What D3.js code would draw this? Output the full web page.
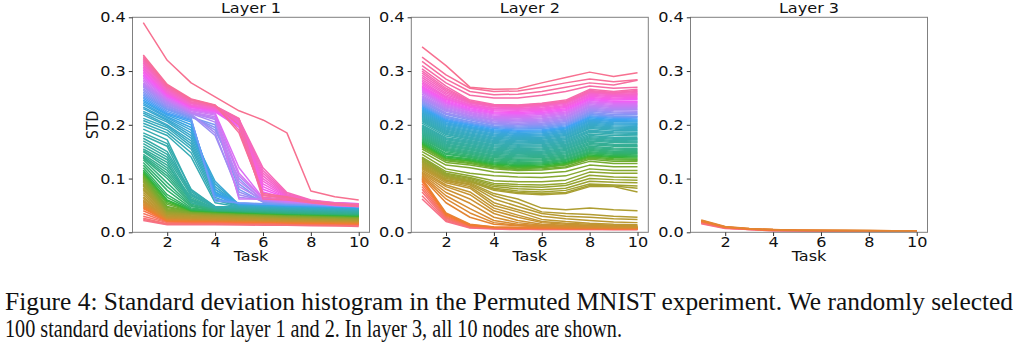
<!DOCTYPE html>
<html>
<head>
<meta charset="utf-8">
<script src="https://cdn.jsdelivr.net/npm/d3@7"></script>
<style>
  html, body { margin: 0; padding: 0; background: #fff; }
  svg { display: block; }
</style>
</head>
<body>
<svg id="chart" width="1024" height="345"></svg>
<script>
// ---------------- DATA ----------------
const tasks = [1, 2, 3, 4, 5, 6, 7, 8, 9, 10];
const xTicks = [2, 4, 6, 8, 10];
const yTicks = [0.0, 0.1, 0.2, 0.3, 0.4];
const titles = ["Layer 1", "Layer 2", "Layer 3"];
const yLabel = "STD";
const xLabel = "Task";
const captionLines = [
  "Figure 4: Standard deviation histogram in the Permuted MNIST experiment. We randomly selected",
  "100 standard deviations for layer 1 and 2. In layer 3, all 10 nodes are shown."
];

// STD values in thousandths (0.001), one row per node, one column per task
const layer1Milli = [
  [22,14,14,14,14,13,13,12,12,11],
  [24,15,15,15,14,14,13,13,12,12],
  [26,16,16,16,15,15,14,14,13,13],
  [30,18,17,17,16,16,15,15,14,14],
  [35,19,18,18,17,17,16,16,15,15],
  [40,20,19,19,18,18,17,16,16,15],
  [44,21,20,20,19,19,18,17,17,16],
  [46,22,21,21,20,19,18,18,17,17],
  [48,23,22,22,21,20,19,19,18,18],
  [50,24,23,22,21,21,20,19,19,18],
  [52,25,24,23,22,21,20,20,19,19],
  [54,26,24,24,23,22,21,20,20,19],
  [56,27,25,24,23,22,21,21,20,20],
  [58,27,26,25,24,23,22,21,21,20],
  [60,28,26,25,24,23,22,22,21,21],
  [63,29,27,26,25,24,23,22,22,21],
  [66,30,28,27,26,25,24,23,22,22],
  [70,31,29,28,27,26,25,24,23,22],
  [74,32,30,29,28,27,25,24,23,23],
  [78,33,31,30,29,27,26,25,24,23],
  [80,34,32,31,29,28,27,26,25,24],
  [83,35,33,31,30,29,27,26,25,24],
  [86,36,34,32,31,29,28,27,26,25],
  [88,37,34,33,31,30,28,27,26,25],
  [90,38,35,33,32,30,29,28,27,26],
  [93,39,36,34,32,31,29,28,27,26],
  [95,40,36,34,33,31,30,29,28,27],
  [97,41,37,35,33,32,30,29,28,27],
  [99,42,37,35,34,32,31,30,29,28],
  [101,44,38,36,34,33,31,30,29,28],
  [103,46,38,36,35,33,32,31,30,29],
  [105,48,39,37,35,34,32,31,30,29],
  [107,52,39,37,36,34,33,32,31,30],
  [109,55,40,38,36,35,33,32,31,30],
  [111,58,40,38,37,35,34,33,32,31],
  [113,60,41,39,37,36,34,33,32,31],
  [116,65,42,39,38,36,35,34,33,32],
  [120,70,43,40,38,37,35,34,33,32],
  [125,78,45,40,39,37,36,35,34,33],
  [130,85,48,41,39,38,36,35,34,33],
  [135,92,50,41,40,38,37,36,35,34],
  [138,100,52,42,40,39,37,36,35,34],
  [140,105,55,42,41,39,38,37,36,35],
  [142,110,58,43,41,40,38,37,36,35],
  [145,115,60,43,42,40,39,38,37,36],
  [150,120,62,44,42,41,39,38,37,36],
  [152,125,65,44,43,41,40,39,38,37],
  [155,130,55,45,43,42,40,39,38,37],
  [160,135,60,45,44,42,41,40,39,38],
  [165,140,68,46,44,43,41,40,39,38],
  [170,145,72,46,45,43,42,41,40,39],
  [175,150,75,47,45,44,42,41,40,39],
  [180,160,70,47,46,44,43,42,41,40],
  [185,165,80,48,46,45,43,42,41,40],
  [192,172,78,48,47,45,44,43,42,41],
  [198,180,140,55,47,46,44,43,42,41],
  [203,185,148,60,48,46,45,44,43,41],
  [208,190,155,65,48,47,45,44,43,42],
  [212,195,160,70,49,47,46,45,44,42],
  [218,198,165,75,49,48,46,45,44,43],
  [222,200,170,80,50,48,47,46,45,43],
  [225,205,175,85,50,49,47,46,45,44],
  [230,208,180,90,51,49,48,47,46,44],
  [233,210,185,95,51,50,48,47,46,45],
  [237,213,190,75,52,50,49,48,47,45],
  [240,215,195,70,52,51,49,48,47,46],
  [243,218,200,80,53,51,50,49,47,46],
  [246,220,205,72,53,52,50,49,48,47],
  [249,222,208,68,54,52,51,50,48,47],
  [252,225,210,62,54,53,51,50,49,47],
  [255,228,212,58,55,53,52,51,49,48],
  [258,230,214,200,80,56,53,52,50,48],
  [261,232,215,195,90,57,54,52,50,49],
  [264,234,217,190,100,58,54,53,51,49],
  [267,236,218,180,75,58,55,53,51,50],
  [270,238,220,185,70,59,55,54,52,50],
  [272,240,221,205,65,60,56,54,52,50],
  [274,242,222,210,85,60,56,55,53,51],
  [276,244,223,212,95,61,57,55,53,51],
  [278,246,224,215,105,62,57,56,54,52],
  [281,247,226,218,62,62,58,56,54,52],
  [284,249,228,220,110,63,58,57,55,53],
  [287,251,229,222,120,64,59,57,55,53],
  [290,252,230,224,195,70,62,55,50,48],
  [293,254,232,225,198,75,63,55,51,48],
  [296,255,233,226,200,80,64,56,51,49],
  [299,257,234,227,202,85,65,56,52,49],
  [302,258,235,228,204,90,66,57,52,50],
  [305,260,236,229,205,95,67,57,53,50],
  [308,261,237,230,206,100,68,58,53,51],
  [311,263,239,231,207,105,69,58,53,51],
  [314,265,240,232,208,110,70,59,54,51],
  [316,266,241,233,209,115,72,59,54,52],
  [318,268,242,234,210,120,74,60,55,52],
  [320,269,243,234,211,65,62,56,52,49],
  [323,271,245,235,212,70,63,57,53,50],
  [325,272,246,236,200,62,60,55,51,48],
  [327,273,247,236,190,68,65,56,52,49],
  [330,275,248,237,185,72,66,57,53,50],
  [390,320,278,252,226,209,185,77,66,60]
];

const layer2Milli = [
  [62,20,8,6,5,5,5,5,5,5],
  [68,22,9,7,6,5,5,5,5,5],
  [75,24,10,7,6,6,6,6,5,5],
  [80,26,10,8,7,6,6,6,6,6],
  [85,28,11,8,7,7,6,6,6,6],
  [90,30,12,9,8,7,7,7,6,6],
  [95,32,13,9,8,8,7,7,7,7],
  [98,34,14,10,9,8,8,8,7,7],
  [100,36,15,10,9,9,8,8,8,8],
  [102,55,28,15,12,10,9,9,8,8],
  [104,62,36,18,13,11,10,9,9,9],
  [106,68,44,22,15,12,11,10,9,9],
  [108,74,54,28,18,13,12,11,10,10],
  [110,80,62,35,22,15,13,12,11,10],
  [112,85,70,40,28,18,15,13,12,11],
  [115,88,75,45,32,20,17,15,13,12],
  [118,92,82,50,38,24,20,17,15,14],
  [120,95,85,55,42,30,25,22,19,18],
  [122,97,88,62,48,35,30,28,25,24],
  [124,98,90,68,55,38,35,33,30,28],
  [126,100,92,72,62,45,42,45,42,40],
  [128,102,94,78,72,70,72,85,85,75],
  [130,104,95,80,74,72,74,87,86,82],
  [132,105,96,82,77,75,78,90,88,86],
  [134,106,98,85,81,79,82,95,93,92],
  [136,108,100,88,85,84,87,100,98,97],
  [138,110,102,91,89,88,91,106,103,102],
  [140,113,105,96,94,94,97,112,110,110],
  [145,118,110,105,103,102,105,118,115,115],
  [150,125,120,112,110,110,113,125,122,122],
  [155,130,125,118,115,116,120,132,128,128],
  [158,133,128,120,117,118,122,136,132,132],
  [160,135,130,122,118,120,125,138,135,134],
  [162,137,132,123,120,121,126,140,137,136],
  [164,138,133,125,122,123,128,142,139,138],
  [166,140,135,127,124,125,130,144,141,140],
  [168,142,137,129,126,127,132,146,143,142],
  [170,145,139,131,128,129,134,148,145,144],
  [172,147,141,133,130,131,136,150,147,146],
  [174,150,143,135,132,133,138,152,149,148],
  [176,152,145,137,134,135,140,154,151,150],
  [178,154,147,139,136,137,142,156,153,152],
  [180,156,149,141,138,139,144,158,155,154],
  [182,158,151,143,140,141,146,160,157,156],
  [184,160,153,145,142,143,148,163,160,159],
  [186,162,155,147,144,145,150,165,162,161],
  [188,164,157,149,146,147,152,167,164,163],
  [190,166,159,151,148,149,154,170,167,166],
  [192,168,161,153,150,151,156,172,169,168],
  [194,170,163,155,152,153,158,174,171,170],
  [196,172,165,157,154,155,160,176,173,172],
  [198,174,167,159,156,157,162,178,175,174],
  [200,176,169,161,158,159,164,180,177,176],
  [203,179,171,163,160,161,166,183,180,179],
  [206,182,173,165,162,163,168,186,183,182],
  [208,184,175,167,164,165,170,188,185,184],
  [210,186,177,169,166,167,172,190,187,186],
  [212,188,179,171,168,169,174,193,190,189],
  [214,190,181,173,170,171,176,195,192,191],
  [216,192,183,175,172,173,178,197,194,193],
  [218,194,185,177,174,175,180,199,196,195],
  [220,196,187,179,176,177,182,201,198,197],
  [222,198,189,181,178,179,184,203,200,199],
  [224,200,191,183,180,181,186,205,202,201],
  [226,202,193,185,182,183,188,207,204,203],
  [228,204,195,187,184,185,190,209,206,205],
  [230,206,197,189,186,187,192,211,208,207],
  [232,208,199,191,188,189,194,213,210,209],
  [234,210,201,193,190,191,196,215,212,211],
  [236,212,203,195,192,193,198,217,214,213],
  [238,214,205,197,194,195,200,219,216,215],
  [240,216,206,198,196,197,202,221,217,216],
  [242,219,209,200,198,199,204,223,219,219],
  [244,221,211,202,200,201,206,225,222,221],
  [246,222,212,203,201,203,208,227,224,223],
  [248,225,214,205,203,205,210,229,226,225],
  [250,227,216,207,205,207,212,231,228,228],
  [252,229,217,209,207,209,214,233,230,230],
  [254,231,219,210,209,211,216,235,232,232],
  [257,233,221,212,211,213,218,237,234,234],
  [260,235,223,214,213,215,220,239,236,236],
  [262,237,225,216,215,217,222,241,238,238],
  [264,239,226,218,217,219,224,243,240,240],
  [266,241,228,220,219,221,226,245,242,242],
  [268,243,230,222,221,223,228,247,244,244],
  [270,245,232,224,223,225,230,249,246,247],
  [272,247,234,226,225,227,232,251,248,249],
  [275,249,235,228,227,229,234,253,250,251],
  [278,251,237,230,229,231,236,255,252,253],
  [281,253,238,231,230,233,238,257,254,255],
  [284,256,240,233,232,235,240,259,256,257],
  [288,259,241,234,233,236,241,260,257,258],
  [292,262,242,235,234,237,242,261,258,260],
  [296,265,243,236,235,238,243,262,259,262],
  [300,268,244,237,236,239,244,264,260,264],
  [304,272,246,238,237,240,246,266,262,266],
  [310,278,255,250,250,255,262,272,268,270],
  [318,285,262,256,257,262,270,278,274,283],
  [326,293,268,262,263,270,278,285,280,284],
  [345,310,270,266,267,278,288,298,290,297]
];

const layer3Milli = [
  [16,7,5,3,3,2,2,2,2,2],
  [17,8,5,3,3,3,2,2,2,2],
  [18,8,5,4,3,3,3,2,2,2],
  [19,9,6,4,3,3,3,3,2,2],
  [19,9,6,4,3,3,3,3,3,2],
  [20,9,6,4,4,3,3,3,3,3],
  [21,10,6,4,4,3,3,3,3,3],
  [21,10,6,5,4,4,3,3,3,3],
  [22,10,7,5,4,4,4,3,3,3],
  [23,11,7,5,4,4,4,4,3,3]
];

// ---------------- HUSL palette (seaborn husl_palette) ----------------
const M = [[3.2406,-1.5372,-0.4986],[-0.9689,1.8758,0.0415],[0.0557,-0.2040,1.0570]];
const refU = 0.19784, refV = 0.46834, kappa = 24389/27, epsilon = 216/24389;
function maxChroma(L, H) {
  const hrad = H / 360 * 2 * Math.PI, sinH = Math.sin(hrad), cosH = Math.cos(hrad);
  const sub1 = Math.pow(L + 16, 3) / 1560896;
  const sub2 = sub1 > epsilon ? sub1 : L / kappa;
  let result = Infinity;
  for (const [m1, m2, m3] of M) {
    const tp = (0.99915 * m1 + 1.05122 * m2 + 1.14460 * m3) * sub2;
    const rbottom = 0.86330 * m3 - 0.17266 * m2;
    const lbottom = 0.12949 * m3 - 0.38848 * m1;
    const bt = (rbottom * sinH + lbottom * cosH) * sub2;
    for (const t of [0, 1]) {
      const C = L * (tp - 1.05122 * t) / (bt + 0.17266 * sinH * t);
      if (C > 0 && C < result) result = C;
    }
  }
  return result;
}
function huslToRgb(H, S, L) {
  const C = maxChroma(L, H) / 100 * S;
  const hrad = H / 360 * 2 * Math.PI;
  const U = C * Math.cos(hrad), V = C * Math.sin(hrad);
  const varY = L > 8 ? Math.pow((L + 16) / 116, 3) : L / kappa;
  const varU = U / (13 * L) + refU, varV = V / (13 * L) + refV;
  const Y = varY;
  const X = -(9 * Y * varU) / ((varU - 4) * varV - varU * varV);
  const Z = (9 * Y - 15 * varV * Y - varV * X) / (3 * varV);
  const lin = M.map(r => r[0] * X + r[1] * Y + r[2] * Z);
  const g = lin.map(c => c <= 0.0031308 ? 12.92 * c : 1.055 * Math.pow(c, 1 / 2.4) - 0.055);
  return d3.rgb(...g.map(c => Math.max(0, Math.min(1, c)) * 255));
}
function huslPalette(n, h = 0.01, s = 0.9, l = 0.65) {
  const out = [];
  for (let i = 0; i < n; i++) {
    const hue = ((i / n + h) % 1) * 359;
    out.push(huslToRgb(hue, s * 99, l * 99).formatHex());
  }
  return out;
}
const palette = huslPalette(100);

// ---------------- DRAW ----------------
const svg = d3.select("#chart");
const panelLefts = [132.5, 411.3, 690.5];
const panelW = 237, plotTop = 17.3, plotBottom = 232.3;
const layers = [layer1Milli, layer2Milli, layer3Milli];
const fontSans = "'DejaVu Sans', sans-serif";
const fs = 14;          // chart font size
const sx = 1.15;        // horizontal stretch seen in the reference glyphs

const x = d3.scaleLinear().domain([0.55, 10.45]);
const y = d3.scaleLinear().domain([0, 0.4]).range([plotBottom, plotTop]);

function label(g, tx, ty, text, rotate) {
  g.append("text")
    .attr("transform", `translate(${tx},${ty}) scale(${sx},1)` + (rotate ? " rotate(-90)" : ""))
    .attr("text-anchor", "middle")
    .style("font-family", fontSans).style("font-size", fs + "px").attr("fill", "#111")
    .text(text);
}

layers.forEach((data, p) => {
  const left = panelLefts[p];
  const xs = x.copy().range([left, left + panelW]);
  const g = svg.append("g");
  const line = d3.line().x((d, i) => xs(tasks[i])).y(d => y(d / 1000));

  g.selectAll("path.series").data(data).join("path")
    .attr("class", "series")
    .attr("d", line)
    .attr("fill", "none")
    .attr("stroke", (d, i) => palette[i])
    .attr("stroke-width", 1.5)
    .attr("stroke-linejoin", "round");

  // spines
  g.append("rect")
    .attr("x", left).attr("y", plotTop)
    .attr("width", panelW).attr("height", plotBottom - plotTop)
    .attr("fill", "none").attr("stroke", "#808080").attr("stroke-width", 1);

  const xAxis = g.append("g").attr("transform", `translate(0,${plotBottom})`)
    .call(d3.axisBottom(xs).tickValues(xTicks).tickFormat(d3.format("d")).tickSize(3.7).tickPadding(1.5));
  const yAxis = g.append("g").attr("transform", `translate(${left},0)`)
    .call(d3.axisLeft(y).tickValues(yTicks).tickFormat(d3.format(".1f")).tickSize(3.7).tickPadding(2.2));
  [xAxis, yAxis].forEach(a => {
    a.select(".domain").remove();
    a.selectAll(".tick line").attr("stroke", "#333");
    a.selectAll(".tick text").attr("fill", "#111")
      .style("font-family", fontSans).style("font-size", fs + "px")
      .attr("transform", `scale(${sx},1)`);
  });

  label(g, left + panelW / 2, 13.3, titles[p]);
  label(g, left + panelW / 2, 261, xLabel);
  if (p === 0) label(g, 97.5, (plotTop + plotBottom) / 2, yLabel, true);
});

// caption
const capW = [1008, 617];
captionLines.forEach((t, i) => {
  svg.append("text")
    .attr("x", 5).attr("y", 310 + i * 26.5)
    .attr("textLength", capW[i]).attr("lengthAdjust", "spacingAndGlyphs")
    .style("font-family", "'Liberation Serif', 'Times New Roman', serif")
    .style("font-size", "25.5px").attr("fill", "#111")
    .text(t);
});
</script>
</body>
</html>
